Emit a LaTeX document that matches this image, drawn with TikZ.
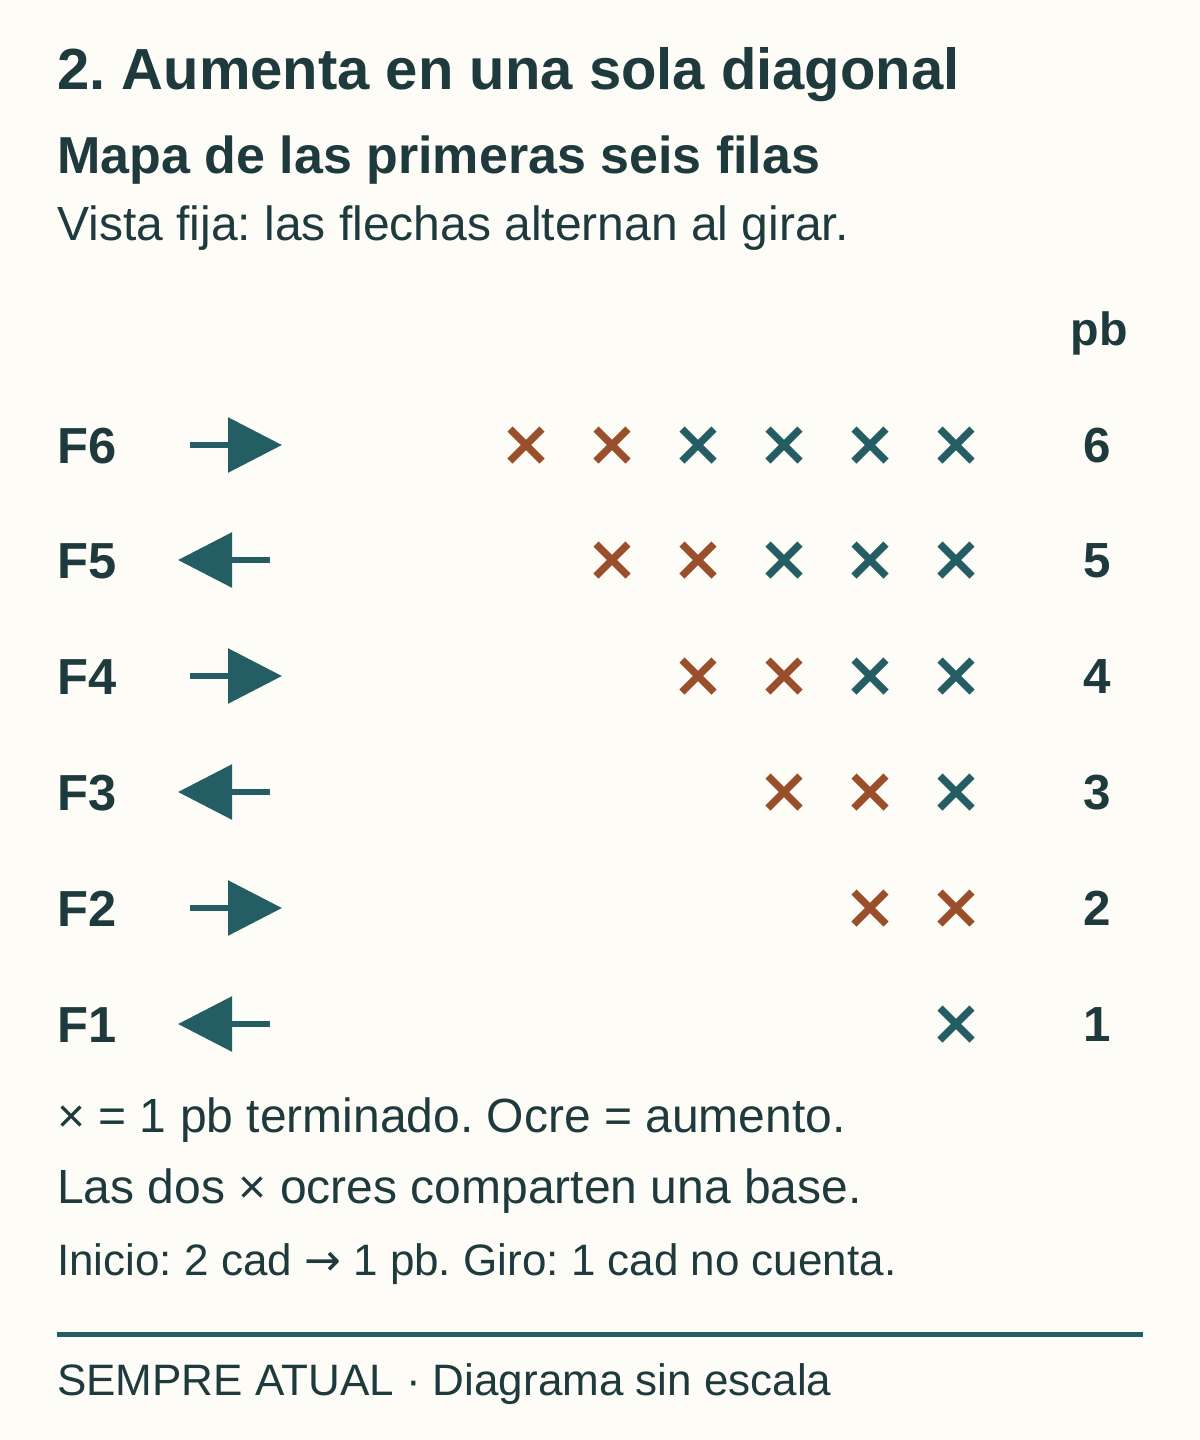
\documentclass[tikz,border=0pt]{standalone}
\usepackage{fontspec}
\setmainfont{Liberation Sans}
\newfontfamily\arrowfont{DejaVu Sans}
\usetikzlibrary{arrows.meta}
\frenchspacing

\definecolor{ink}{HTML}{1F3A3D}
\definecolor{petrol}{HTML}{245E64}
\definecolor{ocre}{HTML}{9A4F2B}
\definecolor{paper}{HTML}{FDFCF7}

\tikzset{
  txt/.style={anchor=base west,inner sep=0pt,text=ink},
  rowlabel/.style={anchor=base west,inner sep=0pt,text=ink,font=\bfseries\fontsize{38}{44}\selectfont},
  count/.style={anchor=base,inner sep=0pt,text=ink,font=\bfseries\fontsize{37}{44}\selectfont},
  dirarrow/.style={petrol,line width=4.5pt,-{Triangle[length=40.5pt,width=40.5pt]}},
  stitch/.pic={\draw[line width=5.5pt] (-16,-16) -- (16,16) (-16,16) -- (16,-16);}
}

\begin{document}
\begin{tikzpicture}[x=0.75pt,y=-0.75pt]
  \fill[paper] (0,0) rectangle (1200,1440);
  % headings
  \node[txt,font=\bfseries\fontsize{43.5}{50}\selectfont] (title) at (57,89) {2. Aumenta en una sola diagonal};
  \node[txt,font=\bfseries\fontsize{39}{45}\selectfont] (sub) at (57,173) {Mapa de las primeras seis filas};
  \node[txt,font=\fontsize{36}{42}\selectfont] (view) at (57,240) {Vista fija: las flechas alternan al girar.};
  \node[count,font=\bfseries\fontsize{35}{42}\selectfont] (pb) at (1099,345) {pb};
  % rows
  \foreach \n/\y in {6/445,5/560,4/676,3/792,2/908,1/1024} {
    \node[rowlabel] (f\n) at (57,\y+18) {F\n};
    \node[count] (n\n) at (1097,\y+17) {\n};
    \ifodd\n
      \coordinate (a\n) at (270,\y);
      \coordinate (b\n) at (178,\y);
    \else
      \coordinate (a\n) at (190,\y);
      \coordinate (b\n) at (282,\y);
    \fi
    \draw[dirarrow] (a\n) -- (b\n);
    \foreach \c [evaluate=\c as \x using 956-(\c-1)*86] in {1,...,\n} {
      \pgfmathtruncatemacro\isinc{and(\n>1,\c>\n-2)}
      \def\stc{petrol}
      \ifnum\isinc=1 \def\stc{ocre}\fi
      \pic[\stc] at (\x,\y) {stitch};
    }
  }
  % notes
  \node[txt,font=\fontsize{36}{42}\selectfont] (note1) at (57,1132) {× = 1 pb terminado. Ocre = aumento.};
  \node[txt,font=\fontsize{36}{42}\selectfont] (note2) at (57,1203) {Las dos × ocres comparten una base.};
  \node[txt,font=\fontsize{33}{40}\selectfont] (note3) at (57,1275) {Inicio: 2 cad {\arrowfont →} 1 pb. Giro: 1 cad no cuenta.};
  \draw[petrol,line width=3.75pt] (57,1334) -- (1143,1334);
  \node[txt,font=\fontsize{33}{40}\selectfont] (foot) at (57,1395) {SEMPRE ATUAL · Diagrama sin escala};
\end{tikzpicture}
\end{document}
